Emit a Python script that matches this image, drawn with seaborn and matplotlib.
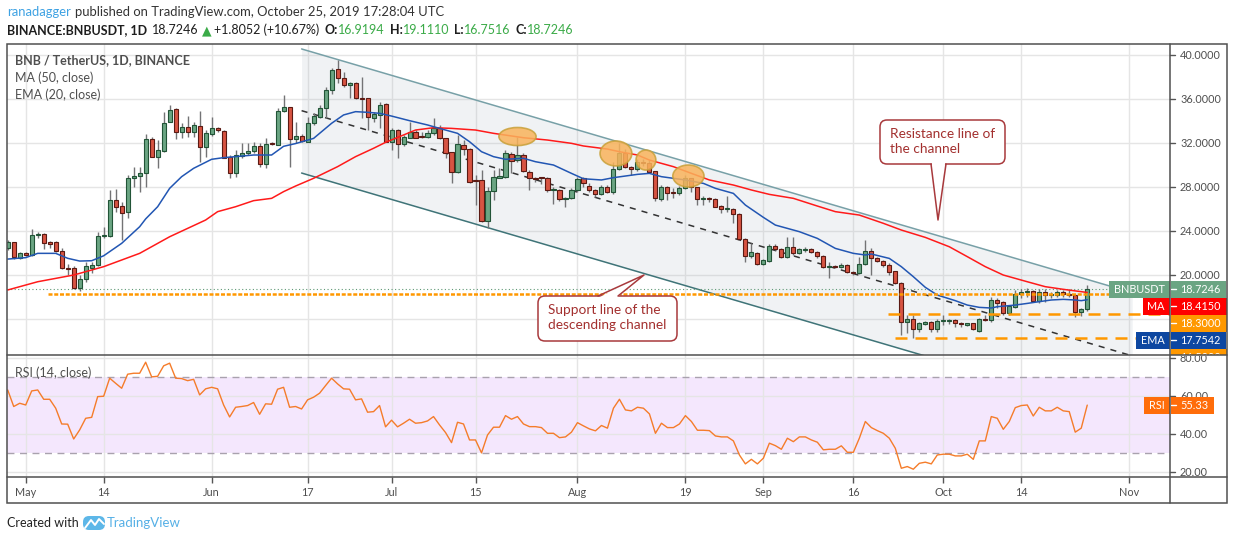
import matplotlib
matplotlib.use('Agg')
from matplotlib import pyplot as plt
from matplotlib.patches import Rectangle, Ellipse, FancyBboxPatch, Polygon
import matplotlib.dates as mdates
import pandas as pd
import seaborn as sns

# daily BNB / USDT candles, 28 Apr - 25 Oct 2019
first_day = '2019-04-28'
opens = [22.42, 22.97, 21.58, 21.97, 21.79, 23.61, 23.70, 22.97, 22.97, 22.15,
         20.61, 20.61, 18.79, 19.61, 20.67, 20.88, 23.52, 23.58, 26.79, 26.24,
         25.76, 28.79, 29.03, 29.24, 32.33, 30.76, 31.30, 33.94, 35.06, 32.97,
         33.45, 33.03, 33.55, 31.61, 32.85, 33.36, 33.09, 30.73, 29.24, 30.79,
         31.06, 31.27, 31.73, 30.06, 32.00, 31.85, 34.88, 35.30, 32.33, 32.61,
         32.12, 33.79, 34.39, 35.15, 36.82, 38.70, 37.94, 37.24, 37.42, 36.09,
         36.06, 34.30, 34.55, 35.52, 32.06, 33.21, 31.88, 32.48, 32.97, 32.58,
         32.52, 32.88, 33.39, 32.42, 31.15, 29.33, 31.82, 31.45, 28.61, 28.61,
         24.94, 27.64, 28.85, 28.94, 31.03, 30.45, 30.91, 29.39, 28.85, 28.85,
         28.85, 27.70, 27.70, 26.91, 26.97, 27.73, 28.79, 28.06, 27.73, 27.33,
         27.97, 27.58, 29.60, 31.06, 29.79, 29.63, 30.27, 30.15, 29.42, 26.94,
         28.03, 27.48, 27.42, 27.88, 28.79, 27.97, 26.88, 26.97, 26.88, 26.24,
         26.03, 26.03, 25.51, 23.30, 21.73, 22.03, 20.97, 21.30, 22.66, 22.36,
         21.60, 22.57, 21.97, 22.30, 22.36, 22.09, 21.73, 20.72, 20.82, 20.72,
         20.88, 20.27, 20.15, 20.97, 22.18, 21.51, 21.27, 20.91, 20.33, 19.30,
         15.76, 15.97, 15.12, 15.57, 15.73, 15.12, 15.82, 15.82, 15.91, 15.60,
         15.48, 15.60, 14.94, 15.97, 15.91, 17.73, 17.54, 16.51, 17.12, 18.27,
         18.42, 18.54, 17.67, 18.42, 18.18, 18.18, 18.45, 18.27, 18.21, 16.61, 16.9194]
highs = [23.18, 23.03, 22.12, 22.06, 24.15, 23.94, 23.79, 23.09, 23.09, 22.48,
         21.00, 20.85, 20.00, 21.21, 21.21, 23.94, 24.39, 27.73, 27.79, 26.67,
         29.09, 29.85, 29.85, 32.82, 32.58, 32.27, 34.79, 35.45, 35.15, 33.79,
         34.45, 33.94, 34.91, 33.18, 34.39, 33.48, 33.18, 30.91, 31.36, 31.97,
         31.97, 32.06, 31.97, 32.42, 32.06, 35.15, 36.36, 35.30, 33.94, 32.79,
         34.39, 34.70, 35.45, 37.12, 38.85, 39.55, 38.48, 37.58, 37.58, 38.00,
         36.12, 34.85, 35.76, 35.61, 33.33, 33.27, 32.73, 33.94, 33.18, 33.03,
         33.18, 34.24, 33.64, 32.48, 31.21, 32.73, 32.27, 31.52, 29.09, 29.55,
         28.03, 29.55, 29.70, 31.36, 31.21, 32.58, 31.06, 29.55, 28.94, 28.94,
         28.94, 28.03, 27.79, 27.12, 27.88, 28.94, 28.94, 28.33, 27.79, 28.18,
         28.18, 30.30, 31.97, 31.42, 29.91, 30.54, 30.51, 30.45, 29.48, 28.18,
         28.09, 27.88, 28.09, 29.09, 28.85, 28.03, 27.18, 27.12, 26.97, 26.36,
         27.18, 26.12, 25.61, 23.33, 22.88, 22.12, 21.42, 22.79, 22.79, 22.42,
         23.48, 23.42, 22.42, 22.57, 22.42, 22.18, 21.82, 21.21, 20.91, 21.06,
         20.97, 20.33, 21.67, 23.18, 22.42, 21.60, 21.36, 21.06, 20.39, 19.39,
         16.36, 16.36, 15.76, 15.85, 15.82, 15.97, 16.36, 15.97, 15.97, 15.76,
         15.67, 15.67, 16.06, 16.36, 18.03, 17.88, 17.64, 17.27, 18.63, 18.70,
         18.79, 18.63, 18.70, 18.70, 18.48, 18.63, 18.63, 18.70, 18.27, 16.97, 19.111]
lows = [22.27, 21.45, 21.45, 21.70, 21.76, 23.39, 22.33, 22.42, 22.12, 20.58,
        20.00, 18.73, 18.55, 19.39, 20.15, 20.85, 23.33, 23.48, 25.76, 23.18,
        25.15, 28.03, 27.58, 28.03, 30.70, 29.70, 31.21, 33.94, 32.33, 32.48,
        32.58, 32.58, 30.30, 30.70, 32.61, 33.03, 30.61, 28.79, 28.94, 30.61,
        30.91, 31.06, 29.85, 29.76, 31.82, 31.82, 34.85, 29.85, 31.97, 32.06,
        32.06, 33.64, 34.24, 34.24, 36.42, 37.42, 37.12, 36.06, 36.00, 34.24,
        33.18, 33.94, 33.33, 32.06, 31.36, 30.61, 31.76, 32.42, 32.42, 32.42,
        32.42, 32.73, 32.33, 30.61, 28.33, 29.24, 30.91, 28.33, 26.36, 24.85,
        24.30, 26.82, 28.79, 28.85, 29.24, 30.30, 29.33, 27.73, 28.48, 28.24,
        27.58, 26.45, 26.76, 26.21, 26.88, 27.58, 28.03, 27.58, 27.12, 27.24,
        27.42, 27.36, 29.54, 29.70, 29.09, 29.48, 29.91, 29.30, 26.76, 26.76,
        26.82, 26.97, 27.27, 27.79, 27.58, 26.36, 26.36, 26.67, 26.15, 25.61,
        25.76, 24.70, 23.18, 21.21, 21.51, 20.91, 20.91, 21.21, 22.27, 21.51,
        21.51, 21.82, 21.91, 22.12, 21.97, 21.51, 20.60, 19.70, 20.60, 20.60,
        20.15, 20.00, 20.06, 20.91, 20.00, 21.15, 20.76, 20.00, 19.18, 14.54,
        14.70, 14.24, 14.85, 15.45, 14.85, 14.85, 15.45, 15.54, 15.24, 15.24,
        15.36, 15.00, 14.85, 15.85, 15.76, 16.97, 16.36, 16.36, 16.97, 17.88,
        18.03, 17.57, 17.48, 17.57, 17.88, 18.03, 18.03, 18.03, 16.15, 16.27, 16.7516]
closes = [22.97, 21.61, 21.97, 21.79, 23.61, 23.70, 22.88, 22.82, 22.15, 20.61,
          20.55, 18.79, 19.61, 20.82, 20.91, 23.55, 23.64, 26.79, 26.21, 25.67,
          28.79, 29.03, 29.27, 32.33, 30.76, 31.33, 33.85, 35.00, 33.03, 33.45,
          33.03, 33.64, 31.61, 32.88, 33.36, 33.15, 30.67, 29.24, 30.91, 31.09,
          31.24, 31.70, 30.06, 31.94, 31.88, 34.91, 35.30, 32.33, 32.64, 32.18,
          33.79, 34.45, 35.15, 36.82, 38.64, 37.94, 37.27, 37.42, 36.06, 36.03,
          34.39, 34.61, 35.45, 32.12, 33.21, 31.94, 32.52, 33.03, 32.48, 32.52,
          32.91, 33.33, 32.42, 31.12, 29.33, 31.88, 31.45, 28.48, 28.52, 24.94,
          27.64, 28.88, 29.00, 31.06, 30.36, 30.91, 29.45, 28.79, 28.76, 28.79,
          27.70, 27.76, 26.88, 27.03, 27.73, 28.70, 28.33, 27.70, 27.33, 27.97,
          27.58, 29.60, 31.06, 29.79, 29.60, 30.24, 30.15, 29.39, 26.97, 28.03,
          27.42, 27.42, 27.88, 28.79, 27.97, 26.88, 26.97, 26.88, 26.21, 26.03,
          26.09, 25.51, 23.27, 21.73, 22.09, 20.97, 21.33, 22.66, 22.33, 21.60,
          22.57, 21.97, 22.33, 22.36, 22.09, 21.73, 20.69, 20.82, 20.72, 20.91,
          20.24, 20.15, 20.97, 22.15, 21.51, 21.27, 20.88, 20.30, 19.24, 15.76,
          15.97, 15.12, 15.60, 15.73, 15.12, 15.82, 15.85, 15.85, 15.60, 15.51,
          15.60, 15.06, 15.97, 15.91, 17.73, 17.48, 16.51, 17.15, 18.27, 18.45,
          18.54, 17.67, 18.42, 18.15, 18.24, 18.45, 18.24, 18.15, 16.64, 16.91, 18.7246]
rsi = [63.3, 54.6, 56.3, 55.4, 62.8, 63.3, 58.4, 58.4, 53.7, 45.4,
       45.3, 37.5, 42.3, 48.4, 48.9, 59.8, 60.0, 69.5, 66.8, 64.2,
       71.6, 72.1, 72.1, 77.9, 70.2, 70.5, 76.0, 77.4, 69.5, 69.3,
       68.2, 68.9, 60.7, 63.9, 64.7, 63.9, 55.4, 49.1, 54.2, 54.6,
       55.1, 56.7, 50.5, 56.0, 55.8, 63.7, 64.7, 54.2, 54.6, 53.3,
       58.1, 59.5, 61.6, 65.6, 69.5, 66.5, 63.9, 63.7, 58.1, 58.6,
       51.6, 51.9, 55.1, 43.9, 47.4, 43.9, 45.8, 47.9, 45.8, 46.1,
       47.0, 49.3, 44.9, 40.9, 35.6, 46.3, 45.4, 37.0, 37.0, 30.2,
       39.6, 43.7, 43.7, 49.8, 47.9, 49.3, 45.4, 44.0, 44.0, 43.5,
       40.5, 40.5, 38.2, 38.6, 41.1, 46.1, 44.4, 42.8, 41.8, 44.6,
       43.2, 53.7, 58.4, 52.8, 52.3, 54.2, 53.7, 50.7, 40.5, 45.8,
       43.5, 43.5, 45.4, 49.8, 46.7, 42.1, 42.1, 41.9, 39.1, 38.6,
       38.6, 36.5, 29.1, 24.4, 26.8, 24.4, 27.4, 35.3, 34.0, 32.1,
       37.9, 36.1, 38.6, 38.6, 37.0, 35.8, 31.8, 32.1, 32.1, 33.9,
       30.5, 30.5, 37.9, 46.7, 43.5, 41.9, 40.5, 37.9, 32.6, 22.1,
       23.0, 21.6, 24.7, 25.3, 24.4, 29.1, 29.5, 29.5, 28.6, 28.6,
       29.5, 26.8, 36.5, 36.5, 49.3, 48.4, 42.6, 46.7, 54.0, 55.1,
       55.4, 49.6, 54.2, 52.3, 52.3, 54.2, 52.3, 51.9, 41.1, 43.2, 55.33]

ma_dates = ['2019-04-28', '2019-05-03', '2019-05-09', '2019-05-14', '2019-05-20', '2019-05-25',
            '2019-05-31', '2019-06-02', '2019-06-05', '2019-06-08', '2019-06-11', '2019-06-13',
            '2019-06-15', '2019-06-18', '2019-06-22', '2019-06-25', '2019-06-28', '2019-06-30',
            '2019-07-03', '2019-07-05', '2019-07-08', '2019-07-11', '2019-07-15', '2019-07-18',
            '2019-07-23', '2019-07-27', '2019-07-31', '2019-08-02', '2019-08-06', '2019-08-08',
            '2019-08-11', '2019-08-13', '2019-08-17', '2019-08-20', '2019-08-23', '2019-08-27',
            '2019-08-30', '2019-09-02', '2019-09-06', '2019-09-10', '2019-09-13', '2019-09-17',
            '2019-09-21', '2019-09-24', '2019-09-28', '2019-10-02', '2019-10-05', '2019-10-08',
            '2019-10-11', '2019-10-15', '2019-10-18', '2019-10-21', '2019-10-25']
ma_vals = [18.64, 19.39, 20.00, 20.76, 21.97, 23.48,
           25.00, 25.76, 26.21, 26.76, 26.97, 27.58,
           28.09, 28.79, 29.85, 30.76, 31.52, 32.06,
           32.73, 33.18, 33.39, 33.33, 33.18, 32.88,
           32.48, 32.27, 31.97, 31.73, 31.45, 31.21,
           30.91, 30.45, 29.85, 29.24, 28.64, 28.18,
           27.73, 27.33, 26.97, 26.27, 25.76, 25.45,
           24.70, 24.09, 23.42, 22.57, 21.67, 20.76,
           20.00, 19.39, 18.94, 18.70, 18.415]
ema_dates = ['2019-04-28', '2019-05-01', '2019-05-03', '2019-05-06', '2019-05-08', '2019-05-10',
             '2019-05-12', '2019-05-14', '2019-05-17', '2019-05-20', '2019-05-21', '2019-05-23',
             '2019-05-25', '2019-05-27', '2019-05-29', '2019-06-01', '2019-06-03', '2019-06-05',
             '2019-06-08', '2019-06-11', '2019-06-13', '2019-06-15', '2019-06-18', '2019-06-21',
             '2019-06-23', '2019-06-25', '2019-06-27', '2019-06-29', '2019-07-01', '2019-07-04',
             '2019-07-07', '2019-07-09', '2019-07-12', '2019-07-14', '2019-07-16', '2019-07-18',
             '2019-07-20', '2019-07-23', '2019-07-25', '2019-07-28', '2019-07-31', '2019-08-02',
             '2019-08-05', '2019-08-07', '2019-08-09', '2019-08-11', '2019-08-13', '2019-08-15',
             '2019-08-17', '2019-08-19', '2019-08-22', '2019-08-24', '2019-08-27', '2019-08-29',
             '2019-09-01', '2019-09-03', '2019-09-07', '2019-09-10', '2019-09-13', '2019-09-16',
             '2019-09-18', '2019-09-19', '2019-09-22', '2019-09-24', '2019-09-26', '2019-09-28',
             '2019-09-30', '2019-10-03', '2019-10-05', '2019-10-07', '2019-10-09', '2019-10-10',
             '2019-10-13', '2019-10-15', '2019-10-17', '2019-10-19', '2019-10-21', '2019-10-23',
             '2019-10-24', '2019-10-25']
ema_vals = [21.45, 21.58, 21.97, 21.97, 21.52, 21.27,
            21.30, 21.75, 22.88, 24.39, 25.10, 26.21,
            27.88, 28.94, 29.70, 30.52, 30.67, 30.76,
            30.91, 30.91, 31.70, 31.95, 32.42, 33.79,
            34.55, 34.85, 34.79, 34.70, 34.45, 34.03,
            33.64, 33.33, 32.88, 32.12, 31.21, 30.76,
            30.52, 30.61, 30.30, 30.00, 29.24, 28.75,
            28.64, 28.85, 29.00, 29.15, 29.24, 28.94,
            28.79, 28.64, 28.33, 27.88, 27.42, 26.36,
            25.24, 24.54, 23.94, 23.33, 22.42, 21.97,
            21.82, 21.91, 21.51, 20.76, 19.85, 18.88,
            18.18, 17.67, 17.27, 17.06, 17.00, 17.12,
            17.27, 17.42, 17.58, 17.73, 17.79, 17.73,
            17.67, 17.7542]

# drawings on the chart
channel_days = ['2019-06-16', '2019-11-01 12:00']
channel_top = [40.55, 18.40]
channel_bottom = [29.27, 7.12]
mid_days = ['2019-06-16', '2019-11-01']
mid_line = [34.94, 12.73]
level_vals = [18.30, 16.50, 14.30]
level_starts = ['2019-05-04 18:00', '2019-09-21 17:00', '2019-09-22 22:00']
circle_days = ['2019-07-22', '2019-08-07 10:00', '2019-08-12 10:00', '2019-08-19 12:00']
circle_prices = [32.59, 31.05, 30.45, 29.0]
circle_w = [6.2, 5.3, 3.3, 5.2]
circle_h = [1.64, 2.27, 1.82, 2.0]

tick_days = ['2019-05-01', '2019-05-14', '2019-06-01', '2019-06-17', '2019-07-01', '2019-07-15',
             '2019-08-01', '2019-08-19', '2019-09-01', '2019-09-16', '2019-10-01', '2019-10-14',
             '2019-11-01']
tick_names = ['May', '14', 'Jun', '17', 'Jul', '15', 'Aug', '19', 'Sep', '16', 'Oct', '14', 'Nov']
price_grid = [16, 20, 24, 28, 32, 36, 40]
price_ticks = [20, 24, 28, 32, 36, 40]   # 16.0000 is hidden behind the price tags
rsi_ticks = [20, 40, 60, 80]

sns.set_theme(style='white')
FONT = ['Lato', 'DejaVu Sans']
plt.rcParams['font.family'] = FONT

W, H = 1234, 540
fig = plt.figure(figsize=(W / 100, H / 100), dpi=100)


def frac(x0, y0, x1, y1):
    return [x0 / W, 1 - y1 / H, (x1 - x0) / W, (y1 - y0) / H]


ax = fig.add_axes(frac(7, 44, 1170, 355))
ax_rsi = fig.add_axes(frac(7, 355, 1170, 477), sharex=ax)
ov = fig.add_axes([0, 0, 1, 1], zorder=10)
ov.set_xlim(0, W)
ov.set_ylim(H, 0)
ov.axis('off')

days = pd.date_range(first_day, periods=len(closes), freq='D')
xd = mdates.date2num(days)


def dnum(s):
    return mdates.date2num(pd.to_datetime(s, format='mixed'))


x_left, x_right = xd[0] - 0.12, xd[0] + 193.8
ax.set_xlim(x_left, x_right)
ax.set_ylim(12.73, 41.0)
ax_rsi.set_ylim(17.5, 81.7)

GRID = '#e5e5e5'
for a in (ax, ax_rsi):
    a.set_facecolor('white')
    for s in a.spines.values():
        s.set_visible(False)
    a.grid(True, color=GRID, lw=1)
ax.set_xticks(dnum(tick_days))
ax.set_yticks(price_grid)
ax_rsi.set_yticks(rsi_ticks)
ax.tick_params(axis='both', length=0, labelleft=False, labelbottom=False)
ax_rsi.tick_params(axis='y', length=0, labelleft=False)
ax_rsi.set_xticklabels(tick_names)
ax_rsi.tick_params(axis='x', length=4, width=1, color='#555555', direction='out',
                   labelsize=7.8, labelcolor='#4f4f4f', pad=3, bottom=True)

# channel
cx = dnum(channel_days)
ax.fill_between(cx, channel_top, channel_bottom, color='#9aa7b5', alpha=0.14, lw=0, zorder=1)
ax.plot(cx, channel_top, color='#77a0a7', lw=1.1, zorder=2)
ax.plot(cx, channel_bottom, color='#3f7478', lw=1.1, zorder=2)
ax.plot(dnum(mid_days), mid_line, color='#333333', lw=1.1, dashes=(4, 4), zorder=2)

# horizontal levels
ax.axhline(closes[-1], color='#5f9a76', lw=0.8, dashes=(1, 2.2), zorder=2)
ax.plot([dnum(level_starts[0]), x_right], [level_vals[0]] * 2, color='#ff9800', lw=1.8,
        dashes=(1.6, 0.7), zorder=6, solid_capstyle='butt')
for v, s in zip(level_vals[1:], level_starts[1:]):
    ax.plot([dnum(s), x_right], [v, v], color='#ff9800', lw=1.8, dashes=(4.8, 3.2), zorder=6)

# candles
up = [c >= o for o, c in zip(opens, closes)]
body_lo = [min(o, c) for o, c in zip(opens, closes)]
body_h = [max(abs(c - o), 0.09) for o, c in zip(opens, closes)]
ax.vlines(xd, lows, highs, color='#737375', lw=1, zorder=3)
ax.bar(xd, body_h, bottom=body_lo, width=0.68,
       color=['#6ba583' if u else '#d75442' for u in up],
       edgecolor=['#225437' if u else '#5b1a13' for u in up], linewidth=0.8, zorder=4)

sns.lineplot(x=dnum(ma_dates), y=ma_vals, ax=ax, color='#ff1a1a', lw=1.1, zorder=5)
sns.lineplot(x=dnum(ema_dates), y=ema_vals, ax=ax, color='#2256b3', lw=1.1, zorder=5)

for d, p, w, h in zip(circle_days, circle_prices, circle_w, circle_h):
    ax.add_patch(Ellipse((dnum(d), p), w, h, facecolor='#f9b35b', alpha=0.85,
                         edgecolor='#c9a13a', lw=1.2, zorder=7))

# RSI pane
ax_rsi.axhspan(30, 70, color='#f4e7fd', zorder=0.2, lw=0)
for lv in (70, 30):
    ax_rsi.axhline(lv, color='#a9a2ae', lw=1, dashes=(5, 4), zorder=1)
sns.lineplot(x=xd, y=rsi, ax=ax_rsi, color='#f57c2a', lw=1, zorder=3)
ax.set_xlabel('')
ax.set_ylabel('')
ax_rsi.set_xlabel('')
ax_rsi.set_ylabel('')

# ---------- overlay (pixel coordinates) ----------
LINE = '#505050'
TXT = '#4f4f4f'
ov.add_patch(Rectangle((7, 44), 1220, 459, fill=False, ec=LINE, lw=1.1, zorder=30))
ov.plot([7, 1227], [355, 355], color=LINE, lw=1.1, zorder=30)
ov.plot([7, 1227], [477, 477], color=LINE, lw=1.1, zorder=30)
ov.plot([1170, 1170], [44, 503], color=LINE, lw=1.1, zorder=30)

price_clip = Rectangle((1100, 44), 134, 311, transform=ov.transData)
rsi_clip = Rectangle((1100, 356), 134, 121, transform=ov.transData)


def ypx(a, v):
    return H - a.transData.transform((xd[0], v))[1]


def axis_labels(a, ticks, fmt, clip):
    for v in ticks:
        y = ypx(a, v)
        ln, = ov.plot([1170, 1175], [y, y], color='#555555', lw=1, zorder=5)
        ln.set_clip_path(clip)
        t = ov.text(1180, y, fmt.format(v), fontsize=7.8, color=TXT, va='center', ha='left',
                    zorder=5, clip_on=True)
        t.set_clip_path(clip)


axis_labels(ax, price_ticks, '{:.4f}', price_clip)
axis_labels(ax_rsi, rsi_ticks, '{:.2f}', rsi_clip)

renderer = fig.canvas.get_renderer()


def tag(name, value, color, y, fmt, clip):
    parts = []
    vt = ov.text(1180, y, fmt.format(value), fontsize=7.8, color='white', va='center',
                 ha='left', zorder=16, clip_on=True)
    vw = vt.get_window_extent(renderer).width
    parts.append(vt)
    parts.append(ov.add_patch(Rectangle((1171, y - 8.5), 9 + vw + 6, 17, fc=color, ec='none', zorder=15)))
    tk, = ov.plot([1171, 1176], [y, y], color='white', lw=1, zorder=16)
    parts.append(tk)
    if name:
        nt = ov.text(1165, y, name, fontsize=7.8, color='white', va='center', ha='right',
                     zorder=16, clip_on=True)
        nw = nt.get_window_extent(renderer).width
        parts.append(nt)
        parts.append(ov.add_patch(Rectangle((1165 - nw - 5, y - 8.5), nw + 10, 17, fc=color,
                                            ec='none', zorder=15)))
    for p in parts:
        p.set_clip_path(clip)


tags = [('BNBUSDT', closes[-1], '#6ba583'), ('MA', ma_vals[-1], '#ff0000'),
        ('', level_vals[0], '#ff9800'), ('EMA', ema_vals[-1], '#0d47a1'),
        ('', level_vals[1], '#ff9800')]
prev = -100
for name, val, col in tags:
    y = max(ypx(ax, val), prev + 17)
    tag(name, val, col, y, '{:.4f}', price_clip)
    prev = y
tag('RSI', rsi[-1], '#ff6d0a', ypx(ax_rsi, rsi[-1]), '{:.2f}', rsi_clip)

# pane legends
ov.text(15, 60, 'BNB / TetherUS, 1D, BINANCE', fontsize=9, fontweight='bold', color=TXT, va='center')
ov.text(15, 77.5, 'MA (50, close)', fontsize=9, color=TXT, va='center')
ov.text(15, 94.5, 'EMA (20, close)', fontsize=9, color=TXT, va='center')
ov.text(15, 373, 'RSI (14, close)', fontsize=9, color=TXT, va='center')


def runs(x, y, parts, size):
    for text, color, weight, gap in parts:
        t = ov.text(x, y, text, fontsize=size, color=color, fontweight=weight, va='center',
                    ha='left', family=FONT)
        x += t.get_window_extent(renderer).width + gap


DARK = '#1e1e1e'
GREEN = '#3bab48'
runs(7, 12, [('ranadagger', '#3ea2e3', 'normal', 4),
             ('published on TradingView.com, October 25, 2019 17:28:04 UTC', '#333333', 'normal', 0)], 9.4)
runs(7, 30, [('BINANCE:BNBUSDT, 1D', DARK, 'bold', 5), ('18.7246', DARK, 'normal', 3),
             ('\u25b2', GREEN, 'normal', 3), ('+1.8052 (+10.67%)', DARK, 'normal', 5),
             ('O:', DARK, 'bold', 0), ('16.9194', GREEN, 'normal', 5),
             ('H:', DARK, 'bold', 0), ('19.1110', GREEN, 'normal', 5),
             ('L:', DARK, 'bold', 0), ('16.7516', GREEN, 'normal', 5),
             ('C:', DARK, 'bold', 0), ('18.7246', GREEN, 'normal', 0)], 9)

# callouts
RED = '#a8393c'


def callout(x0, y0, x1, y1, base_x, base_y, inward, tip, lines):
    ov.add_patch(FancyBboxPatch((x0, y0), x1 - x0, y1 - y0,
                                boxstyle='round,pad=0,rounding_size=7', fc='white', ec=RED,
                                lw=1.1, zorder=20))
    ov.add_patch(Polygon([(base_x[0] + 0.8, base_y + inward), (base_x[1] - 0.8, base_y + inward), tip],
                         closed=True, fc='white', ec='none', zorder=21))
    ov.plot([base_x[0], tip[0], base_x[1]], [base_y, tip[1], base_y], color=RED, lw=1.1, zorder=22)
    for k, line in enumerate(lines):
        ov.text(x0 + 10, y0 + 14 + 15 * k, line, fontsize=9.8, color='#a3302f', va='center',
                zorder=23)


callout(880, 120, 1005, 164, (931, 946), 164, -1.5, (938, 220),
        ['Resistance line of', 'the channel'])
callout(538, 296, 677, 341, (598, 618), 296, 1.5, (644, 275),
        ['Support line of the', 'descending channel'])

# footer
ov.text(7, 523, 'Created with', fontsize=9, color='#222222', va='center')
ov.add_patch(FancyBboxPatch((83, 516), 22, 14, boxstyle='round,pad=0,rounding_size=6',
                            fc='#5db7e8', ec='none'))
ov.plot([85, 91, 95, 99, 104], [528, 520, 525, 519, 524], color='white', lw=1.4)
ov.text(107, 523, 'TradingView', fontsize=9.5, color='#56b0e6', va='center')

fig.savefig('out.png', dpi=100)
